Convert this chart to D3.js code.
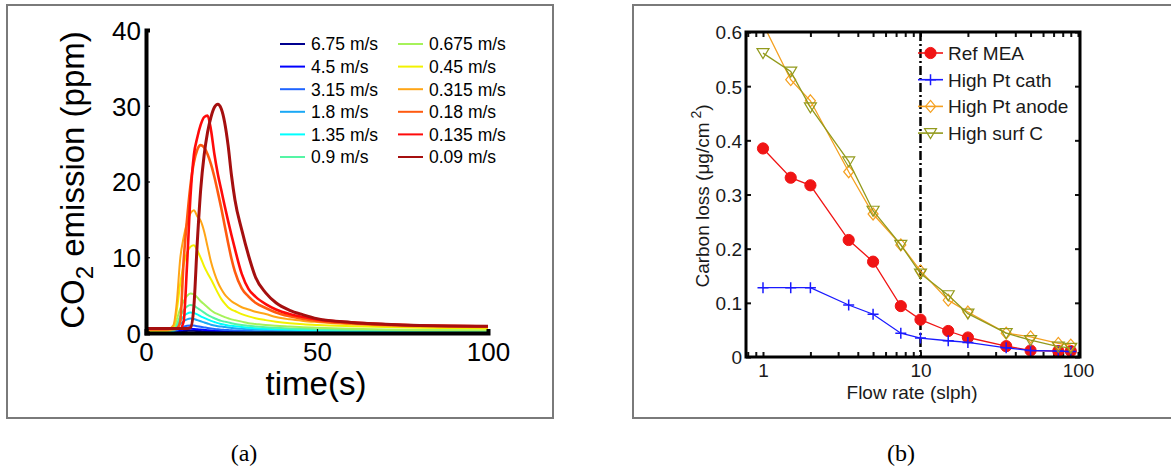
<!DOCTYPE html>
<html><head><meta charset="utf-8">
<script src="https://cdn.jsdelivr.net/npm/d3@7"></script>
<style>body{margin:0;background:#fff}svg{display:block}</style>
</head><body>
<svg id="c" width="1171" height="472"></svg>
<script>
// ---------- Panel (a) data ----------
const timeGrid = [0,6,8,9,10,11,12,13,14,15,16,17,18,19,20,21,22,23,24,25,26,28,30,32,35,38,42,46,50,60,70,80,100];
const speedLabels = ["6.75 m/s","4.5 m/s","3.15 m/s","1.8 m/s","1.35 m/s","0.9 m/s","0.675 m/s","0.45 m/s","0.315 m/s","0.18 m/s","0.135 m/s","0.09 m/s"];
const speedColors = ["#00008f","#0000ff","#1f64ff","#1aa8f5","#00ffff","#55f5a5","#a6f25a","#f2f200","#ffa516","#ff5a10","#ff0a0a","#a50f0f"];
const co2_6_75  = [0.01,0.01,0.03,0.1,0.18,0.25,0.28,0.3,0.29,0.27,0.25,0.22,0.2,0.18,0.16,0.15,0.14,0.13,0.12,0.11,0.1,0.09,0.08,0.07,0.06,0.055,0.05,0.045,0.04,0.035,0.03,0.03,0.03];
const co2_4_5   = [0.02,0.02,0.05,0.2,0.33,0.45,0.52,0.55,0.54,0.5,0.45,0.41,0.37,0.33,0.3,0.27,0.25,0.23,0.21,0.2,0.18,0.16,0.14,0.13,0.11,0.1,0.09,0.08,0.07,0.06,0.05,0.05,0.04];
const co2_3_15  = [0.03,0.03,0.1,0.35,0.6,0.82,0.95,1.0,0.98,0.9,0.82,0.74,0.66,0.59,0.53,0.48,0.44,0.41,0.38,0.35,0.33,0.29,0.26,0.23,0.2,0.18,0.16,0.15,0.14,0.11,0.09,0.08,0.07];
const co2_1_8   = [0.05,0.05,0.2,0.65,1.15,1.55,1.8,1.9,1.85,1.7,1.55,1.4,1.25,1.1,1.0,0.9,0.85,0.78,0.72,0.67,0.62,0.55,0.48,0.44,0.39,0.35,0.31,0.28,0.26,0.21,0.18,0.15,0.12];
const co2_1_35  = [0.1,0.1,0.3,0.9,1.6,2.2,2.55,2.7,2.65,2.45,2.2,2.0,1.8,1.6,1.45,1.3,1.2,1.1,1.0,0.95,0.9,0.8,0.7,0.62,0.55,0.5,0.45,0.4,0.37,0.3,0.25,0.22,0.18];
const co2_0_9   = [0.15,0.15,0.4,1.2,2.2,3.0,3.5,3.7,3.6,3.3,3.0,2.7,2.4,2.15,1.95,1.75,1.6,1.5,1.4,1.3,1.2,1.05,0.95,0.85,0.75,0.68,0.6,0.55,0.5,0.4,0.35,0.3,0.25];
const co2_0_675 = [0.2,0.2,0.6,1.8,3.2,4.2,4.9,5.2,5.1,4.7,4.2,3.8,3.4,3.0,2.7,2.5,2.3,2.1,1.95,1.8,1.7,1.5,1.3,1.2,1.05,0.95,0.85,0.75,0.7,0.55,0.45,0.4,0.35];
const co2_0_45  = [0.3,0.3,0.8,3.0,6.5,9.0,10.6,11.4,11.6,10.9,9.9,8.8,7.9,7.1,6.2,5.3,4.5,3.9,3.4,3.1,2.9,2.5,2.2,1.95,1.7,1.5,1.3,1.15,1.05,0.9,0.8,0.7,0.6];
const co2_0_315 = [0.4,0.4,1.0,4.0,9.8,12.6,14.6,15.8,16.2,15.4,14.8,13.4,11.4,9.4,7.9,6.7,5.8,5.1,4.6,4.2,3.9,3.4,3.1,2.8,2.5,2.1,1.8,1.6,1.45,1.15,0.95,0.85,0.75];
const co2_0_18  = [0.5,0.5,0.5,0.6,1.5,9.5,15,19.5,22.5,24.2,24.8,24.5,23.6,22.3,20.6,18.6,16.5,14.2,11.9,9.8,8.1,5.9,4.8,4.0,3.3,2.7,2.2,1.85,1.6,1.3,1.1,1.0,0.9];
const co2_0_135 = [0.6,0.6,0.6,0.6,0.6,1.5,9,18,23.5,25.8,27.5,28.5,28.7,26.8,23.6,21.0,18.9,16.8,14.8,12.9,11.1,7.8,5.8,4.8,3.8,3.1,2.5,2.1,1.8,1.4,1.15,1.0,0.9];
const co2_0_09  = [0.6,0.6,0.6,0.6,0.6,0.6,0.6,0.7,3.5,12,19,23.5,26.5,28.5,29.8,30.2,29.6,27.8,24.8,20.8,17.6,13.6,10.2,7.4,5.3,4.0,3.0,2.4,1.9,1.4,1.15,1.0,0.9];
const co2Series = [co2_6_75,co2_4_5,co2_3_15,co2_1_8,co2_1_35,co2_0_9,co2_0_675,co2_0_45,co2_0_315,co2_0_18,co2_0_135,co2_0_09];
const yTicksA = [0,10,20,30,40];
const xTicksA = [0,50,100];

// ---------- Panel (b) data ----------
const flowRates   = [1,1.5,2,3.5,5,7.5,10,15,20,35,50,75,90];
const refMEA      = [0.385,0.331,0.317,0.216,0.176,0.094,0.069,0.048,0.036,0.020,0.012,0.011,0.011];
const highPtCath  = [0.128,0.128,0.128,0.096,0.079,0.044,0.035,0.030,0.027,0.017,0.012,0.011,0.010];
const highPtAnode = [0.615,0.512,0.473,0.342,0.264,0.207,0.159,0.105,0.083,0.044,0.037,0.025,0.022];
const highSurfC   = [0.561,0.527,0.461,0.361,0.270,0.207,0.154,0.114,0.080,0.044,0.031,0.019,0.017];
const seriesNamesB = ["Ref MEA","High Pt cath","High Pt anode","High surf C"];
const seriesColorsB = ["#f01414","#1a1aff","#f5a020","#929a1c"];
const yTicksB = [0,0.1,0.2,0.3,0.4,0.5,0.6];
const xLabelTicksB = [1,10,100];
const markerLine = 10;

const svg = d3.select("#c");

// panel frames
svg.append("rect").attr("x",7).attr("y",5).attr("width",546).attr("height",413)
  .attr("fill","none").attr("stroke","#7a7a7a").attr("stroke-width",2);
svg.append("rect").attr("x",633).attr("y",5).attr("width",560).attr("height",413)
  .attr("fill","none").attr("stroke","#7a7a7a").attr("stroke-width",2);

// ================= Panel (a) =================
const xA = d3.scaleLinear().domain([0,100]).range([146,488]);
const yA = d3.scaleLinear().domain([0,40]).range([333,30]);
const gA = svg.append("g");
const lineA = d3.line().x((d,i)=>xA(timeGrid[i])).y(d=>yA(d)).curve(d3.curveMonotoneX);
co2Series.forEach((s,k)=>{
  gA.append("path").attr("d",lineA(s)).attr("fill","none")
    .attr("stroke",speedColors[k]).attr("stroke-width",k===11?3:(k>=9?2.6:2))
    .attr("stroke-linejoin","round");
});
// axes
const axYA = gA.append("g").attr("transform","translate(146,0)")
  .call(d3.axisLeft(yA).tickValues(yTicksA).tickSize(-4).tickPadding(5));
const axXA = gA.append("g").attr("transform","translate(0,333)")
  .call(d3.axisBottom(xA).tickValues(xTicksA).tickSize(-4).tickPadding(10));
[axYA,axXA].forEach(a=>{
  a.select(".domain").attr("stroke","#000").attr("stroke-width",4);
  a.selectAll(".tick line").attr("stroke","#000").attr("stroke-width",1.2);
  a.selectAll(".tick text").attr("fill","#000").style("font-family","'Liberation Sans',Arial,sans-serif").style("font-size","26px");
});
axYA.selectAll(".tick text").attr("dy","0.36em");
gA.append("text").attr("x",316).attr("y",395).attr("text-anchor","middle")
  .style("font-family","'Liberation Sans',Arial,sans-serif").style("font-size","33px").text("time(s)");
const yLab = gA.append("text").attr("transform","translate(84,180) rotate(-90)").attr("text-anchor","middle")
  .style("font-family","'Liberation Sans',Arial,sans-serif").style("font-size","33px");
yLab.append("tspan").text("CO");
yLab.append("tspan").attr("dy",9).style("font-size","24px").text("2");
yLab.append("tspan").attr("dy",-9).text(" emission (ppm)");
// legend (a)
const legA = gA.append("g").style("font-family","'Liberation Sans',Arial,sans-serif").style("font-size","17.5px");
speedLabels.forEach((lab,k)=>{
  const col = Math.floor(k/6), row = k%6;
  const x0 = col===0?280:398, y0 = 44+row*22.6;
  legA.append("line").attr("x1",x0).attr("x2",x0+25).attr("y1",y0).attr("y2",y0)
    .attr("stroke",speedColors[k]).attr("stroke-width",2);
  legA.append("text").attr("x",x0+31).attr("y",y0).attr("dy","0.36em").text(lab);
});

// ================= Panel (b) =================
const L=746,R=1080,T=32,B=357;
const xB = d3.scaleLog().domain([0.78,103]).range([L,R]);
const yB = d3.scaleLinear().domain([0,0.6]).range([B,T]);
const gB = svg.append("g");
svg.append("clipPath").attr("id","clipB").append("rect").attr("x",L).attr("y",T).attr("width",R-L).attr("height",B-T);
const fontB = "'Liberation Sans',Arial,sans-serif";

// ticks
const allLogTicks = xB.ticks();
const axBot = gB.append("g").attr("transform",`translate(0,${B})`)
  .call(d3.axisBottom(xB).tickValues(allLogTicks).tickSize(-5).tickPadding(7)
    .tickFormat(d=>xLabelTicksB.includes(d)?d3.format("d")(d):""));
const axTop = gB.append("g").attr("transform",`translate(0,${T})`)
  .call(d3.axisTop(xB).tickValues(allLogTicks).tickSize(-5).tickFormat(""));
const axLeft = gB.append("g").attr("transform",`translate(${L},0)`)
  .call(d3.axisLeft(yB).tickValues(yTicksB).tickSize(-5).tickPadding(4).tickFormat(d=>d===0?"0":d3.format(".1f")(d)));
const axRight = gB.append("g").attr("transform",`translate(${R},0)`)
  .call(d3.axisRight(yB).tickValues(yTicksB).tickSize(-5).tickFormat(""));
[axBot,axTop,axLeft,axRight].forEach(a=>{
  a.select(".domain").remove();
  a.selectAll(".tick line").attr("stroke","#111").attr("stroke-width",2);
  a.selectAll(".tick text").attr("fill","#1a1a1a").style("font-family",fontB).style("font-size","19px");
});
axLeft.selectAll(".tick text").attr("dy","0.36em");

// dash-dot reference line
gB.append("line").attr("x1",xB(markerLine)).attr("x2",xB(markerLine)).attr("y1",T).attr("y2",B)
  .attr("stroke","#000").attr("stroke-width",2.5).attr("stroke-dasharray","9,3,2,3");

const plotB = gB.append("g").attr("clip-path","url(#clipB)");
const seriesB = [refMEA,highPtCath,highPtAnode,highSurfC];
const lineB = d3.line().x((d,i)=>xB(flowRates[i])).y(d=>yB(d));
function marker(g,type,x,y,color){
  if(type===0){ g.append("circle").attr("cx",x).attr("cy",y).attr("r",5.6).attr("fill",color).attr("stroke",color); }
  else if(type===1){ g.append("path").attr("d",`M${x-5.5},${y}H${x+5.5}M${x},${y-5.5}V${y+5.5}`).attr("stroke",color).attr("stroke-width",1.5).attr("fill","none"); }
  else if(type===2){ g.append("path").attr("d",`M${x},${y-6}L${x+5},${y}L${x},${y+6}L${x-5},${y}Z`).attr("stroke",color).attr("stroke-width",1.2).attr("fill","none"); }
  else { g.append("path").attr("d",`M${x-6},${y-4.5}L${x+6},${y-4.5}L${x},${y+5.5}Z`).attr("stroke",color).attr("stroke-width",1.2).attr("fill","none"); }
}
seriesB.forEach((s,k)=>{
  plotB.append("path").attr("d",lineB(s)).attr("fill","none").attr("stroke",seriesColorsB[k]).attr("stroke-width",1.3);
  s.forEach((v,i)=>marker(plotB,k,xB(flowRates[i]),yB(v),seriesColorsB[k]));
});

// frame
gB.append("rect").attr("x",L).attr("y",T).attr("width",R-L).attr("height",B-T)
  .attr("fill","none").attr("stroke","#000").attr("stroke-width",3);

// labels
gB.append("text").attr("x",912).attr("y",399).attr("text-anchor","middle")
  .style("font-family",fontB).style("font-size","19px").attr("fill","#1a1a1a").text("Flow rate (slph)");
const yLabB = gB.append("text").attr("transform","translate(709,196) rotate(-90)").attr("text-anchor","middle")
  .style("font-family",fontB).style("font-size","19px").attr("fill","#1a1a1a");
yLabB.append("tspan").text("Carbon loss (\u03bcg/cm");
yLabB.append("tspan").attr("dy",-8).style("font-size","14px").text(" 2");
yLabB.append("tspan").attr("dy",8).text(")");

// legend (b)
const legB = gB.append("g");
seriesNamesB.forEach((n,k)=>{
  const y0 = 53 + k*26.7;
  legB.append("line").attr("x1",918).attr("x2",943).attr("y1",y0).attr("y2",y0).attr("stroke",seriesColorsB[k]).attr("stroke-width",1.6);
  marker(legB,k,930.5,y0,seriesColorsB[k]);
  legB.append("text").attr("x",948).attr("y",y0).attr("dy","0.36em")
    .style("font-family",fontB).style("font-size","19px").attr("fill","#1a1a1a").text(n);
});

// captions
svg.append("text").attr("x",244).attr("y",461).attr("text-anchor","middle")
  .style("font-family","'Liberation Serif','DejaVu Serif',serif").style("font-size","24px").text("(a)");
svg.append("text").attr("x",901).attr("y",461).attr("text-anchor","middle")
  .style("font-family","'Liberation Serif','DejaVu Serif',serif").style("font-size","24px").text("(b)");
</script>
</body></html>
